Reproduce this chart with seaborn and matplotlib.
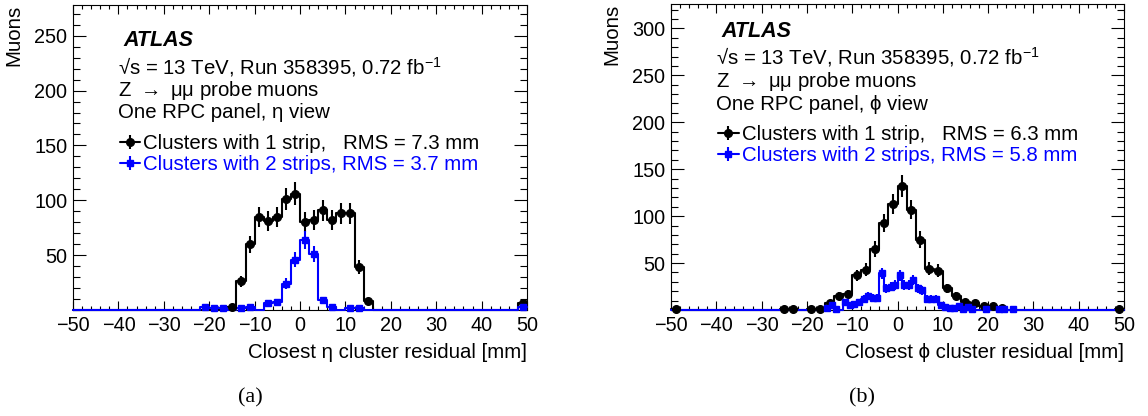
"""
ATLAS RPC cluster residuals: eta view (a) and phi view (b).
Counts read off the published figure.
"""
import numpy as np
import pandas as pd
import matplotlib
matplotlib.use("Agg")
import matplotlib.pyplot as plt
import seaborn as sns
from matplotlib.lines import Line2D
from matplotlib.ticker import FixedLocator, MultipleLocator

sns.set_style("ticks")
plt.rcParams["font.family"] = ["Liberation Sans", "DejaVu Sans"]
plt.rcParams["mathtext.default"] = "regular"
for key in ["text.color", "axes.labelcolor", "xtick.color", "ytick.color",
            "axes.edgecolor"]:
    plt.rcParams[key] = "black"

# eta view, 2 mm bins
eta_1strip_x = [-15, -13, -11, -9, -7, -5, -3, -1, 1, 3, 5, 7, 9, 11, 13, 15, 49]
eta_1strip_n = [3, 26, 60, 85, 81, 85, 101, 106, 80, 82, 91, 82, 88, 88, 39, 8, 6]
eta_2strip_x = [-21, -19, -17, -13, -11, -7, -5, -3, -1, 1, 3, 5, 7, 11, 13, 49]
eta_2strip_n = [3, 2, 2, 2, 3, 6, 7, 24, 46, 64, 51, 9, 3, 2, 2, 3]

# phi view, 2 mm bins for 1 strip, 1 mm bins for 2 strips
phi_1strip_x = [-49, -25, -23, -19, -17, -15, -13, -11, -9, -7, -5, -3, -1,
                1, 3, 5, 7, 9, 11, 13, 15, 17, 19, 21, 23, 49]
phi_1strip_n = [1, 1, 1, 1, 1, 7, 15, 17, 37, 43, 65, 93, 113,
                132, 107, 75, 44, 42, 23, 15, 9, 7, 4, 4, 2, 1]
phi_2strip_x = [-15.5, -14.5, -13.5, -11.5, -10.5, -9.5, -8.5, -7.5, -6.5, -5.5,
                -4.5, -3.5, -2.5, -1.5, -0.5, 0.5, 1.5, 2.5, 3.5, 4.5, 5.5, 6.5,
                7.5, 8.5, 9.5, 10.5, 11.5, 12.5, 13.5, 14.5, 15.5, 16.5, 19.5,
                22.5, 23.5, 25.5]
phi_2strip_n = [2, 5, 1, 9, 5, 6, 9, 12, 15, 13, 13, 39, 23, 25, 27, 37, 27,
                27, 32, 23, 21, 12, 12, 12, 5, 3, 2, 2, 4, 1, 3, 1, 1, 1, 1, 1]

BLUE = "#0000ff"
FS = 14.7


def draw_hist(ax, centers, counts, width, color, marker):
    df = pd.DataFrame({"x": centers, "n": counts})
    sns.histplot(data=df, x="x", weights="n", binwidth=width, binrange=(-50, 50),
                 element="step", fill=False, color=color, linewidth=1.5, ax=ax)
    step = ax.lines[-1]
    step.set_zorder(3)
    step.set_clip_on(False)
    counts = np.asarray(counts, dtype=float)
    ax.errorbar(centers, counts, yerr=np.sqrt(counts), fmt=marker, color=color,
                ms=5.5 if marker == "o" else 5, elinewidth=1.5, capsize=0,
                zorder=4, clip_on=False)


def style_axes(ax, ymax, xlabel):
    ax.set_xlim(-50, 50)
    ax.set_ylim(0, ymax)
    ax.xaxis.set_major_locator(MultipleLocator(10))
    ax.xaxis.set_minor_locator(MultipleLocator(2))
    ax.yaxis.set_major_locator(FixedLocator(np.arange(50, ymax, 50)))
    ax.yaxis.set_minor_locator(MultipleLocator(10))
    ax.tick_params(which="both", direction="in", top=True, right=True,
                   labelsize=14.3, pad=4, width=0.8)
    ax.tick_params(axis="x", which="major", length=6.5)
    ax.tick_params(axis="x", which="minor", length=3.2)
    ax.tick_params(axis="y", which="major", length=9.4)
    ax.tick_params(axis="y", which="minor", length=5)
    for sp in ax.spines.values():
        sp.set_linewidth(0.8)
    ax.set_xlabel(xlabel, fontsize=FS, loc="right", labelpad=6)
    ax.set_ylabel("Muons", fontsize=FS, loc="top")
    ax.yaxis.set_label_coords(-0.11, 1.0)


def add_text(ax, view, ys, x0, leg_x, leg_top, rms1, rms2):
    ax.text(x0 + 0.012, ys[0], "ATLAS", transform=ax.transAxes, fontsize=15.5,
            fontweight="bold", fontstyle="italic", va="center")
    ax.text(x0, ys[1], "√s = 13 TeV, Run 358395, 0.72 fb$^{-1}$",
            transform=ax.transAxes, fontsize=FS, va="center")
    ax.text(x0, ys[2], r"Z $\rightarrow$ μμ probe muons", transform=ax.transAxes,
            fontsize=FS, va="center")
    ax.text(x0, ys[3], f"One RPC panel, {view} view", transform=ax.transAxes,
            fontsize=FS, va="center")
    h1 = (Line2D([], [], color="black", lw=1.5, marker="o", ms=5.5),
          Line2D([], [], color="black", lw=0, marker="|", ms=10, mew=1.5))
    h2 = (Line2D([], [], color=BLUE, lw=1.5, marker="s", ms=5),
          Line2D([], [], color=BLUE, lw=0, marker="|", ms=10, mew=1.5))
    leg = ax.legend([h1, h2],
                    [f"Clusters with 1 strip,   RMS = {rms1} mm",
                     f"Clusters with 2 strips, RMS = {rms2} mm"],
                    loc="upper left", bbox_to_anchor=(leg_x, leg_top),
                    frameon=False, fontsize=FS, handlelength=1.0,
                    handletextpad=0.15, labelspacing=0.1, borderpad=0,
                    borderaxespad=0, numpoints=1)
    leg.get_texts()[1].set_color(BLUE)


fig = plt.figure(figsize=(11.48, 4.16), dpi=100)
ax_a = fig.add_axes([0.0636, 0.2548, 0.3955, 0.7332])
ax_b = fig.add_axes([0.5845, 0.2548, 0.3946, 0.7356])

draw_hist(ax_a, eta_1strip_x, eta_1strip_n, 2, "black", "o")
draw_hist(ax_a, eta_2strip_x, eta_2strip_n, 2, BLUE, "s")
style_axes(ax_a, 278, "Closest η cluster residual [mm]")
add_text(ax_a, "η", [0.883, 0.798, 0.721, 0.646], 0.099, 0.1035, 0.578,
         "7.3", "3.7")

draw_hist(ax_b, phi_1strip_x, phi_1strip_n, 2, "black", "o")
draw_hist(ax_b, phi_2strip_x, phi_2strip_n, 1, BLUE, "s")
style_axes(ax_b, 326, "Closest ϕ cluster residual [mm]")
add_text(ax_b, "ϕ", [0.909, 0.826, 0.748, 0.670], 0.100, 0.104, 0.605,
         "6.3", "5.8")

fig.text(250 / 1148, 1 - 398 / 416, "(a)", family="Liberation Serif",
         fontsize=16, ha="center", va="center")
fig.text(862 / 1148, 1 - 398 / 416, "(b)", family="Liberation Serif",
         fontsize=16, ha="center", va="center")

fig.savefig("out.png", dpi=100)
